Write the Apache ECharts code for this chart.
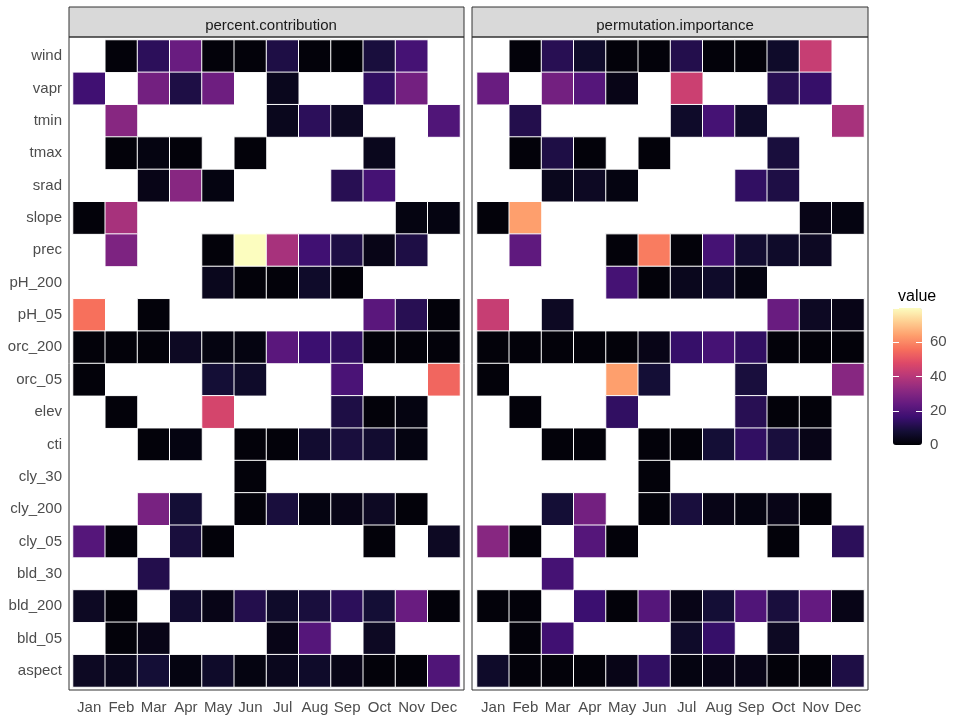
<!DOCTYPE html>
<html>
<head>
<meta charset="utf-8">
<script src="https://cdn.jsdelivr.net/npm/echarts@6/dist/echarts.min.js"></script>
<style>
  html, body { margin: 0; padding: 0; background: #fff; }
  #main { width: 957px; height: 723px; }
</style>
</head>
<body>
<div id="main"></div>
<script>
var months = ['Jan','Feb','Mar','Apr','May','Jun','Jul','Aug','Sep','Oct','Nov','Dec'];
var vars = ['wind','vapr','tmin','tmax','srad','slope','prec','pH_200','pH_05','orc_200',
            'orc_05','elev','cti','cly_30','cly_200','cly_05','bld_30','bld_200','bld_05','aspect'];
var facets = ['percent.contribution', 'permutation.importance'];
var legendTicks = [0, 20, 40, 60];

// one row per variable (same order as vars), Jan..Dec, null = no tile
var percent_contribution = [
  [null,1,13,25,1,1,10,1,0.5,9,18,null],
  [17,null,27,10,26,null,4,null,null,14,27,null],
  [null,31,null,null,null,null,4,13,5,null,null,20],
  [null,1,2,1,null,1,null,null,null,4,null,null],
  [null,null,3,31,2,null,null,null,12,18,null,null],
  [1,37,null,null,null,null,null,null,null,null,2,2],
  [null,29,null,null,1,80,37,17,10,3,10,null],
  [null,null,null,null,4,1,1,6,1,null,null,null],
  [56,null,1,null,null,null,null,null,null,22,12,1],
  [1,1,1,5,2,2,22,16,14,1,1,1],
  [1,null,null,null,8,6,null,null,19,null,null,54],
  [null,1,null,null,46,null,null,null,10,1,2,null],
  [null,null,1,2,null,1,1,7,9,7,2,null],
  [null,null,null,null,null,1,null,null,null,null,null,null],
  [null,null,28,8,null,1,9,2,3,5,1,null],
  [21,1,null,9,1,null,null,null,null,1,null,5],
  [null,null,11,null,null,null,null,null,null,null,null,null],
  [5,1,null,7,3,11,6,9,13,8,25,1],
  [null,1,3,null,null,null,3,21,null,5,null,null],
  [5,4,8,2,6,2,4,6,3,1,1,20]
];
var permutation_importance = [
  [null,1,12,6,1,1,11,1,1,6,43,null],
  [25,null,27,21,3,null,44,null,null,12,15,null],
  [null,11,null,null,null,null,6,18,6,null,null,37],
  [null,1,10,1,null,1,null,null,null,9,null,null],
  [null,null,4,5,2,null,null,null,14,10,null,null],
  [1,64,null,null,null,null,null,null,null,null,3,2],
  [null,23,null,null,1,58,1,18,7,6,5,null],
  [null,null,null,null,18,1,4,6,2,null,null,null],
  [43,null,5,null,null,null,null,null,null,25,5,3],
  [1,1,1,1,1,3,15,18,14,1,1,1],
  [1,null,null,null,64,8,null,null,9,null,null,31],
  [null,1,null,null,14,null,null,null,12,1,1,null],
  [null,null,1,1,null,1,1,8,14,9,3,null],
  [null,null,null,null,null,1,null,null,null,null,null,null],
  [null,null,8,27,null,1,9,3,2,3,1,null],
  [31,1,null,21,1,null,null,null,null,1,null,13],
  [null,null,18,null,null,null,null,null,null,null,null,null],
  [1,1,null,16,1,21,3,8,20,9,24,3],
  [null,1,17,null,null,null,6,15,null,5,null,null],
  [6,1,1,1,3,14,2,3,3,1,1,10]
];

// magma
var magma = ['#000004','#140e36','#3b0f70','#641a80','#8c2981','#b73779',
             '#de4968','#f7705c','#fe9f6d','#fecf92','#fcfdbf'];

function toCells(rows) {
  var out = [];
  for (var r = 0; r < rows.length; r++) {
    for (var c = 0; c < rows[r].length; c++) {
      if (rows[r][c] != null) out.push([c, r, rows[r][c]]);
    }
  }
  return out;
}

var chart = echarts.init(document.getElementById('main'), null, { renderer: 'canvas' });

var txtColor = '#4d4d4d';
var font = 'Liberation Sans, Arial, sans-serif';
var panels = [
  { left: 69, right: 464, cellLeft: 73 },
  { left: 472, right: 868, cellLeft: 477 }
];

var graphics = [];
panels.forEach(function (p) {
  graphics.push({
    type: 'rect', silent: true,
    shape: { x: p.left, y: 7, width: p.right - p.left, height: 30 },
    style: { fill: '#d9d9d9', stroke: '#333', lineWidth: 1 }
  });
  graphics.push({
    type: 'rect', silent: true,
    shape: { x: p.left, y: 37, width: p.right - p.left, height: 653 },
    style: { fill: 'none', stroke: '#333', lineWidth: 1 }
  });
});

var option = {
  backgroundColor: '#fff',
  animation: false,
  textStyle: { fontFamily: font },
  title: [
    { text: facets[0], left: 266, top: 13, textAlign: 'center',
      textStyle: { fontSize: 15, fontWeight: 'normal', color: '#1a1a1a' } },
    { text: facets[1], left: 670, top: 13, textAlign: 'center',
      textStyle: { fontSize: 15, fontWeight: 'normal', color: '#1a1a1a' } },
    { text: 'value', left: 893, top: 284,
      textStyle: { fontSize: 16, fontWeight: 'normal', color: '#000' } }
  ],
  graphic: graphics,
  grid: [
    { left: 73, top: 40, width: 387, height: 647 },
    { left: 477, top: 40, width: 387, height: 647 },
    { left: 893, top: 308, width: 29, height: 137 }
  ],
  xAxis: [
    { type: 'category', gridIndex: 0, data: months, position: 'bottom',
      axisLine: { show: false }, axisTick: { show: false }, splitLine: { show: false },
      axisLabel: { color: txtColor, fontSize: 15, margin: 13, interval: 0 } },
    { type: 'category', gridIndex: 1, data: months, position: 'bottom',
      axisLine: { show: false }, axisTick: { show: false }, splitLine: { show: false },
      axisLabel: { color: txtColor, fontSize: 15, margin: 13, interval: 0 } },
    { type: 'value', gridIndex: 2, show: false, min: 0, max: 1 }
  ],
  yAxis: [
    { type: 'category', gridIndex: 0, data: vars, inverse: true,
      axisLine: { show: false }, axisTick: { show: false }, splitLine: { show: false },
      axisLabel: { color: txtColor, fontSize: 15, margin: 11, interval: 0 } },
    { type: 'category', gridIndex: 1, data: vars, inverse: true,
      axisLine: { show: false }, axisTick: { show: false }, splitLine: { show: false },
      axisLabel: { show: false } },
    { type: 'value', gridIndex: 2, position: 'left', min: 0, max: 80, interval: 20, z: 10,
      axisLine: { show: false }, splitLine: { show: false }, axisLabel: { show: false },
      axisTick: { show: true, inside: true, length: 6, lineStyle: { color: '#fff', width: 1 } } },
    { type: 'value', gridIndex: 2, position: 'right', min: 0, max: 80, interval: 20, z: 10,
      axisLine: { show: false }, splitLine: { show: false },
      axisTick: { show: true, inside: true, length: 6, lineStyle: { color: '#fff', width: 1 } },
      axisLabel: { color: txtColor, fontSize: 15, margin: 8, showMaxLabel: false,
        formatter: function (v) { return legendTicks.indexOf(v) >= 0 ? String(v) : ''; } } }
  ],
  visualMap: {
    type: 'continuous',
    min: 0, max: 80,
    seriesIndex: [0, 1],
    calculable: false,
    left: 893, top: 308,
    itemWidth: 29, itemHeight: 137,
    padding: 0,
    text: null,
    showLabel: false,
    inRange: { color: magma }
  },
  series: [
    { type: 'heatmap', name: facets[0], xAxisIndex: 0, yAxisIndex: 0,
      data: toCells(percent_contribution),
      itemStyle: { borderColor: '#fff', borderWidth: 1 } },
    { type: 'heatmap', name: facets[1], xAxisIndex: 1, yAxisIndex: 1,
      data: toCells(permutation_importance),
      itemStyle: { borderColor: '#fff', borderWidth: 1 } }
  ]
};

chart.setOption(option);
</script>
</body>
</html>
